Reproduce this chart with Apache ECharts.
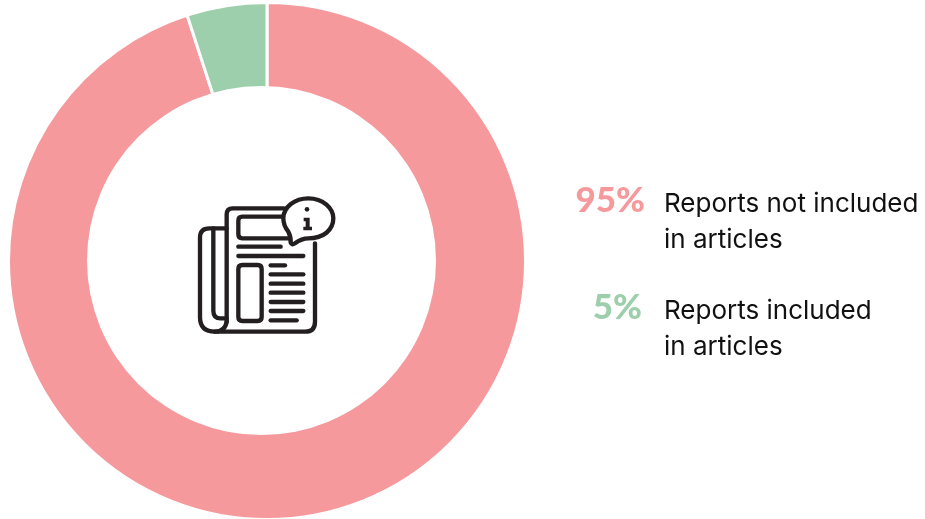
<!DOCTYPE html>
<html>
<head>
<meta charset="utf-8">
<style>html,body{margin:0;padding:0;background:#fff}#c{width:925px;height:519px}</style>
<script src="https://cdn.jsdelivr.net/npm/echarts@6/dist/echarts.min.js"></script>
</head>
<body>
<div id="c"></div>
<script>
// Share of reports that made it into published articles
const categories = ['Reports not included\nin articles', 'Reports included\nin articles'];
const shares = [95, 5];
const colors = ['#F6999C', '#9ECFAC'];
const ink = '#231F20';

const chart = echarts.init(document.getElementById('c'), null, {renderer: 'canvas'});

// Newspaper pictogram, drawn on a 510-unit grid and scaled down
const strokes = [
  'M312 85H158Q140 85 140 103V425',
  'M140 145H88Q60 145 60 173V412Q60 455 105 455H375Q405 455 405 425V190',
  'M140 425Q135 455 105 455',
  'M100 145V392Q100 415 122 415H140',
  'M310 110H187Q175 110 175 122V163Q175 175 187 175H325',
  'M175 200H302', 'M175 228H370',
  'M187 255H233Q245 255 245 267V411Q245 423 233 423H187Q175 423 175 411V267Q175 255 187 255Z',
  'M272 256H315', 'M272 283H370', 'M272 311H370', 'M272 338H370',
  'M272 366H370', 'M272 393H370', 'M272 421H350'
];
const bubble = 'M325 155Q310 137 310 115C310 80 345 55 385 55C430 55 460 85 460 115C460 150 430 175 385 175Q365 175 345 190Q335 197 332 188Q333 170 325 155Z';
const infoStem = 'M371 113H389V140H396V151H370V140H377V124H371Z';

// The graphic component takes shapes by registered name, so each outline gets one
function pathShape(name, d) {
  echarts.graphic.registerShape(name, echarts.graphic.extendPath(d, {}));
  return name;
}

const iconParts = strokes.map((d, i) => ({
  type: pathShape('newsStroke' + i, d), z: 11,
  style: {fill: null, stroke: ink, lineWidth: 13, lineCap: 'round', lineJoin: 'round'}
})).concat([
  {type: pathShape('newsBubble', bubble), z: 12,
   style: {fill: '#fff', stroke: ink, lineWidth: 13, lineJoin: 'round'}},
  {type: 'circle', z: 13, shape: {cx: 381, cy: 88, r: 7}, style: {fill: ink}},
  {type: pathShape('newsInfo', infoStem), z: 13, style: {fill: ink}}
]);

const textFont = 'Inter, "Noto Sans", sans-serif';
const legendRows = [{pctY: 201, y: 222}, {pctY: 308, y: 329}];
const legendParts = [];
categories.forEach((name, i) => {
  legendParts.push({
    type: 'text', z: 11,
    x: i === 0 ? 645 : 642, y: legendRows[i].pctY,
    style: {text: shares[i] + '%', fill: colors[i], align: 'right', verticalAlign: 'middle',
      font: '900 35px Lato, Inter, sans-serif'}
  });
  legendParts.push({
    type: 'text', z: 11,
    x: 664, y: legendRows[i].y,
    style: {text: name, fill: '#111', align: 'left', verticalAlign: 'middle',
      lineHeight: 36, font: '400 26px ' + textFont}
  });
});

chart.setOption({
  animation: false,
  backgroundColor: '#fff',
  series: [{
    type: 'pie',
    center: [267, 261],
    radius: [0, 258.5],
    startAngle: 90,
    clockwise: true,
    silent: true,
    label: {show: false},
    labelLine: {show: false},
    itemStyle: {borderColor: '#fff', borderWidth: 3},
    data: categories.map((name, i) => ({
      name: name, value: shares[i], itemStyle: {color: colors[i]}
    }))
  }],
  graphic: [
    // Hole of the ring sits slightly left of the pie centre
    {type: 'circle', shape: {cx: 261.5, cy: 260.5, r: 174.5}, style: {fill: '#fff'}, z: 10},
    {type: 'group', x: 180, y: 180, scaleX: 1 / 3, scaleY: 1 / 3, children: iconParts},
    {type: 'group', children: legendParts}
  ]
});
</script>
</body>
</html>
